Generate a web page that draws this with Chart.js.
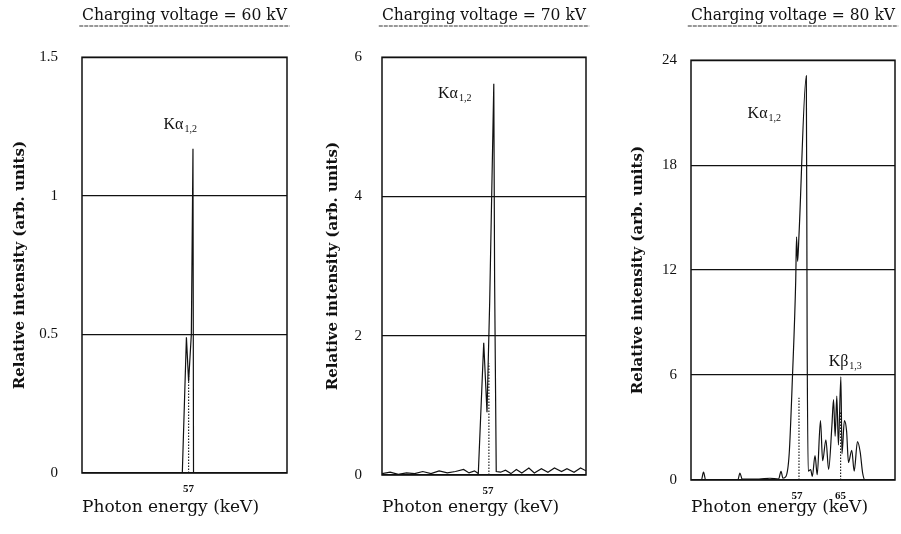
<!DOCTYPE html>
<html>
<head>
<meta charset="utf-8">
<script src="https://cdn.jsdelivr.net/npm/chart.js@4"></script>
<style>
  body { margin:0; background:#fff; }
  #wrap { position:relative; width:901px; height:534px; }
  .panel { position:absolute; top:0; height:534px; }
</style>
</head>
<body>
<div id="wrap">
  <div class="panel" style="left:0;width:300px"><canvas id="c60"></canvas></div>
  <div class="panel" style="left:300px;width:300px"><canvas id="c70"></canvas></div>
  <div class="panel" style="left:600px;width:301px"><canvas id="c80"></canvas></div>
</div>
<script>
var yTitle = 'Relative intensity (arb. units)'
var xTitle = 'Photon energy (keV)'

// 60 kV
var energy60 = [37.5, 55.85, 56.6, 57.0, 57.5, 57.8, 57.9, 75]
var intens60 = [0, 0, 0.49, 0.33, 0.5, 1.17, 0, 0]
var dotted60 = [[57.0, 0.35]]
var xTicks60 = [57]
var yTicks60 = [0, 0.5, 1, 1.5]

// 70 kV
var energy70 = [37.5, 39, 40.5, 42, 43.5, 45, 46.5, 48, 49.5, 51, 52.5, 53.5, 54.5, 55.2, 56.2, 56.8, 57.3, 58.05, 58.2, 58.5, 59.3, 60.2, 61.2, 62.2, 63.2, 64.5, 65.5, 66.8, 68, 69.2, 70.5, 71.5, 72.8, 74, 75]
var intens70 = [0.02, 0.04, 0.01, 0.03, 0.02, 0.05, 0.02, 0.06, 0.03, 0.05, 0.08, 0.03, 0.06, 0.02, 1.9, 0.9, 2.5, 5.62, 2.8, 0.05, 0.04, 0.07, 0.02, 0.08, 0.03, 0.1, 0.03, 0.09, 0.04, 0.1, 0.05, 0.09, 0.04, 0.1, 0.06]
var dotted70 = [[57.15, 1.6]]
var xTicks70 = [57]
var yTicks70 = [0, 2, 4, 6]

// 80 kV
var energy80 = [37.5, 39.4, 39.8, 40.2, 46.1, 46.5, 46.9, 50, 52, 53.6, 54.05, 54.4, 54.95, 55.55, 56.15, 56.75, 56.9, 57.1, 57.35, 58.7, 58.85, 59.05, 59.5, 59.8, 60.3, 60.7, 61.3, 61.7, 62.3, 62.8, 63.4, 63.7, 64.0, 64.3, 64.6, 65.05, 65.25, 65.7, 66.1, 66.45, 67.05, 67.5, 68.1, 68.6, 69.05, 69.5, 75]
var intens80 = [0, 0, 0.45, 0, 0, 0.4, 0.05, 0.05, 0.1, 0.05, 0.5, 0.1, 0.2, 1.5, 5.9, 11.4, 13.9, 12.5, 14.0, 23.1, 8, 0.5, 0.6, 0.2, 1.4, 0.3, 3.4, 1.1, 2.3, 0.6, 3.1, 4.6, 2.5, 4.8, 2.0, 5.9, 1.5, 3.4, 2.8, 1.0, 1.7, 0.5, 2.2, 1.6, 0.4, 0, 0]
var dotted80 = [[57.35, 4.7], [65.0, 3.9]]
var xTicks80 = [57, 65]
var yTicks80 = [0, 6, 12, 18, 24]

var ink = '#111'

var boxPlugin = {
  id: 'box',
  afterDatasetsDraw: function(chart){
    var a = chart.chartArea, c = chart.ctx
    c.save()
    c.strokeStyle = ink
    c.lineWidth = 1.5
    c.strokeRect(a.left, a.top, a.right - a.left, a.bottom - a.top)
    c.restore()
  }
}

var underlinePlugin = {
  id: 'underline',
  afterDraw: function(chart){
    var t = chart.titleBlock
    if (!t) return
    var o = chart.options.plugins.title
    var c = chart.ctx
    c.save()
    c.font = Chart.helpers.toFont(o.font).string
    var w = c.measureText(o.text).width
    var cx = t.left + t.width / 2
    var y = t.top + 26
    c.strokeStyle = '#333'
    c.lineWidth = 1.2
    c.setLineDash([4, 1])
    c.beginPath()
    c.moveTo(cx - w / 2, y)
    c.lineTo(cx + w / 2, y)
    c.stroke()
    c.restore()
  }
}

function peakLabels(items){
  return {
    id: 'peakLabels',
    afterDraw: function(chart){
      var c = chart.ctx, sx = chart.scales.x, sy = chart.scales.y
      c.save()
      c.fillStyle = ink
      c.textBaseline = 'alphabetic'
      items.forEach(function(it){
        var px = sx.getPixelForValue(it.x), py = sy.getPixelForValue(it.y)
        c.font = '16px "Liberation Serif"'
        c.fillText(it.text, px, py)
        var w = c.measureText(it.text).width
        c.font = '10px "Liberation Serif"'
        c.fillText(it.sub, px + w + 1, py + 3)
      })
      c.restore()
    }
  }
}

function plain(v){ return String(v) }

function panel(id, cfg){
  var ctx = document.getElementById(id).getContext('2d')
  var pts = cfg.energy.map(function(e, i){ return {x: e, y: cfg.intens[i]} })
  var datasets = [{
    data: pts, borderColor: ink, borderWidth: 1.2, pointRadius: 0, fill: false,
    tension: 0, cubicInterpolationMode: cfg.smooth ? 'monotone' : 'default'
  }]
  cfg.dotted.forEach(function(d){
    datasets.push({
      data: [{x: d[0], y: 0}, {x: d[0], y: d[1]}],
      borderColor: '#222', borderWidth: 1.2, borderDash: [1.5, 1.5], pointRadius: 0
    })
  })
  return new Chart(ctx, {
    type: 'line',
    data: {datasets: datasets},
    options: {
      responsive: true,
      maintainAspectRatio: false,
      animation: false,
      layout: {padding: {left: 0, right: cfg.padRight, top: 0, bottom: 0}},
      plugins: {
        legend: {display: false},
        tooltip: {enabled: false},
        title: {
          display: true, text: cfg.title, fullSize: false, color: ink,
          font: {family: 'DejaVu Serif', size: 16, weight: 'normal'},
          padding: {top: 6, bottom: cfg.titleGap}
        }
      },
      scales: {
        x: {
          type: 'linear', min: 37.5, max: 75,
          afterBuildTicks: function(s){ s.ticks = cfg.xTicks.map(function(v){ return {value: v} }) },
          afterFit: function(s){ s.height = cfg.xAxisH },
          grid: {display: false, drawTicks: false},
          border: {display: false},
          ticks: {color: ink, font: {family: 'Liberation Serif', size: 11, weight: 'bold'}, padding: 10, maxRotation: 0, autoSkip: false, callback: plain},
          title: {display: true, text: xTitle, align: 'start', color: ink, font: {family: 'DejaVu Serif', size: 17}, padding: {top: 0, bottom: 16}}
        },
        y: {
          min: cfg.yTicks[0], max: cfg.yTicks[cfg.yTicks.length - 1],
          afterBuildTicks: function(s){ s.ticks = cfg.yTicks.map(function(v){ return {value: v} }) },
          afterFit: function(s){ s.width = cfg.yAxisW },
          grid: {color: ink, lineWidth: 1.3, drawTicks: false},
          border: {display: false},
          ticks: {color: ink, font: {family: 'Liberation Serif', size: 15}, padding: cfg.yTickPad, callback: plain},
          title: {display: true, text: yTitle, color: ink, font: {family: 'DejaVu Serif', size: 15, weight: 'bold'}, padding: {top: cfg.yTitlePad, bottom: 0}}
        }
      }
    },
    plugins: [boxPlugin, underlinePlugin, peakLabels(cfg.labels)]
  })
}

panel('c60', {
  title: 'Charging voltage = 60 kV',
  energy: energy60, intens: intens60, dotted: dotted60, xTicks: xTicks60, yTicks: yTicks60,
  padRight: 13, titleGap: 32, xAxisH: 61, yAxisW: 82, yTickPad: 24, yTitlePad: 11,
  labels: [{text: 'Kα', sub: '1,2', x: 52.4, y: 1.24}]
})
panel('c70', {
  title: 'Charging voltage = 70 kV',
  energy: energy70, intens: intens70, dotted: dotted70, xTicks: xTicks70, yTicks: yTicks70,
  padRight: 14, titleGap: 32, xAxisH: 59, yAxisW: 82, yTickPad: 20, yTitlePad: 24,
  labels: [{text: 'Kα', sub: '1,2', x: 47.8, y: 5.42}]
})
panel('c80', {
  title: 'Charging voltage = 80 kV',
  energy: energy80, intens: intens80, dotted: dotted80, xTicks: xTicks80, yTicks: yTicks80,
  padRight: 6, titleGap: 35, xAxisH: 54, yAxisW: 91, yTickPad: 14, yTitlePad: 29, smooth: true,
  labels: [{text: 'Kα', sub: '1,2', x: 47.9, y: 20.7}, {text: 'Kβ', sub: '1,3', x: 62.8, y: 6.5}]
})
</script>
</body>
</html>
